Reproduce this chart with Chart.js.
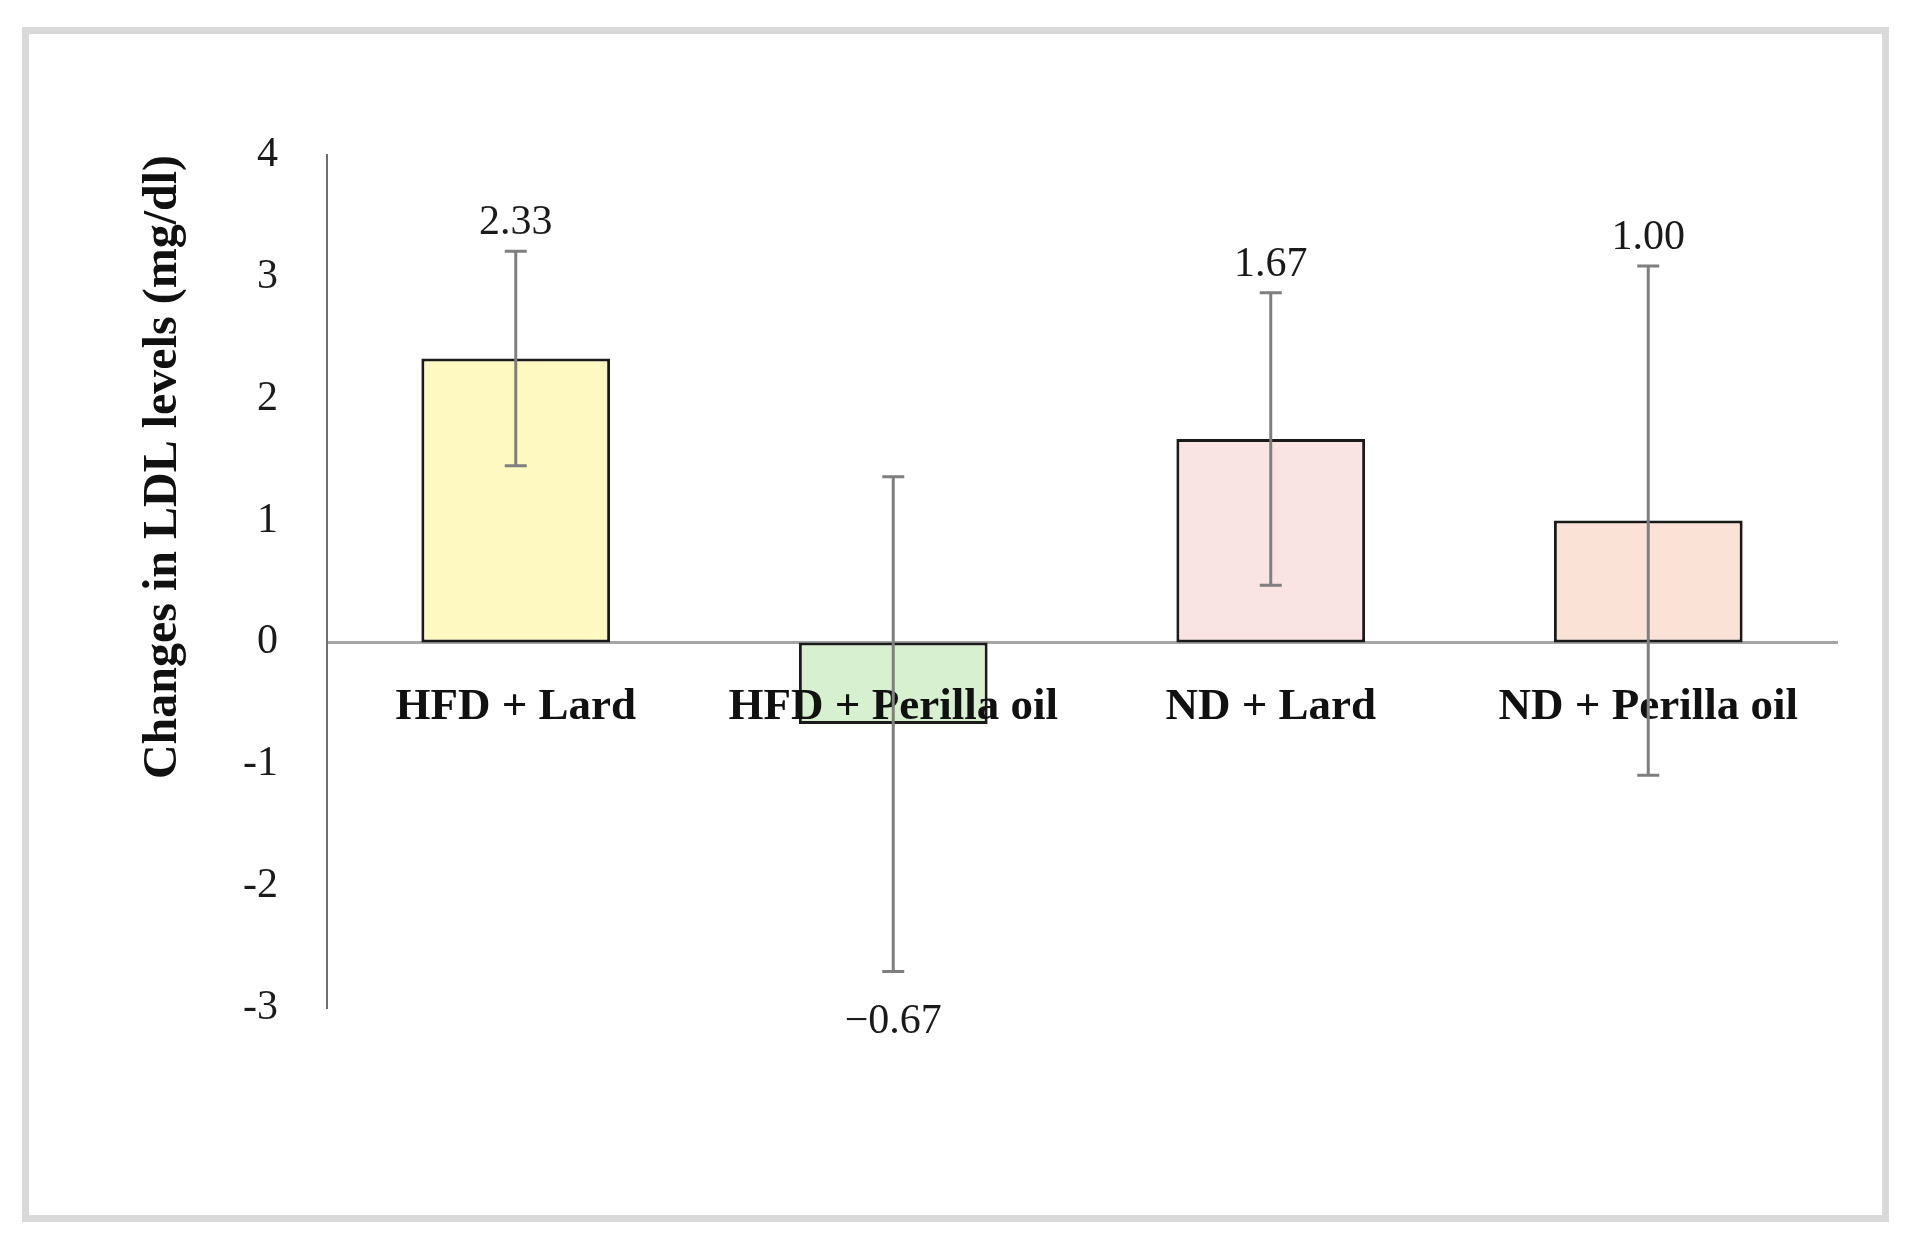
<!DOCTYPE html>
<html>
<head>
<meta charset="utf-8">
<title>Changes in LDL levels</title>
<script src="https://cdn.jsdelivr.net/npm/chart.js@4/dist/chart.umd.min.js"></script>
<style>
  html, body { margin: 0; padding: 0; background: #fff; }
  #wrap { position: relative; width: 1906px; height: 1244px; }
  #frame {
    position: absolute; left: 22px; top: 27px;
    width: 1853px; height: 1181px;
    border: 7px solid #d9d9d9;
    pointer-events: none;
  }
  canvas { position: absolute; left: 0; top: 0; }
</style>
</head>
<body>
<div id="wrap">
  <canvas id="ldlChart" width="1906" height="1244"></canvas>
  <div id="frame"></div>
</div>
<script>
// Изменение ЛПНП по группам, среднее ± ошибка
const groups = ['HFD + Lard', 'HFD + Perilla oil', 'ND + Lard', 'ND + Perilla oil'];
const ldlChange = [2.33, -0.67, 1.67, 1.00];
const ldlError = [0.88, 2.03, 1.20, 2.09];
const barColors = ['#fef9c1', '#d7f0cf', '#f9e4e3', '#fbe2d6'];
const yTicks = [4, 3, 2, 1, 0, -1, -2, -3];

const serif = '"Liberation Serif", "DejaVu Serif", serif';

function formatValue(v) {
  const text = Math.abs(v).toFixed(2);
  return v < 0 ? '\u2212' + text : text;
}

// усы ошибок и подписи значений поверх столбцов
const errorBars = {
  id: 'errorBars',
  afterDraw(chart) {
    const ctx = chart.ctx;
    const yScale = chart.scales.y;
    const meta = chart.getDatasetMeta(0);
    ctx.save();
    meta.data.forEach((bar, i) => {
      const value = ldlChange[i];
      const err = ldlError[i];
      const x = bar.x;
      const top = yScale.getPixelForValue(value + err);
      const bottom = yScale.getPixelForValue(value - err);
      const cap = 11;

      ctx.strokeStyle = '#7f7f7f';
      ctx.lineWidth = 3;
      ctx.beginPath();
      ctx.moveTo(x, top);
      ctx.lineTo(x, bottom);
      ctx.moveTo(x - cap, top);
      ctx.lineTo(x + cap, top);
      ctx.moveTo(x - cap, bottom);
      ctx.lineTo(x + cap, bottom);
      ctx.stroke();

      ctx.fillStyle = '#1a1a1a';
      ctx.font = '42px ' + serif;
      ctx.textAlign = 'center';
      ctx.textBaseline = 'middle';
      if (value >= 0) {
        ctx.fillText(formatValue(value), x, top - 28);
      } else {
        ctx.fillText(formatValue(value), x, bottom + 51);
      }
    });
    ctx.restore();
  },
};

new Chart(document.getElementById('ldlChart'), {
  type: 'bar',
  data: {
    labels: groups,
    datasets: [
      {
        data: ldlChange,
        backgroundColor: barColors,
        borderColor: '#1a1a1a',
        borderWidth: 3,
        borderSkipped: false,
        barPercentage: 0.5,
        categoryPercentage: 1,
      },
    ],
  },
  options: {
    responsive: false,
    animation: false,
    events: [],
    layout: {
      padding: { left: 135, right: 69, top: 155, bottom: 236 },
    },
    plugins: {
      legend: { display: false },
      tooltip: { enabled: false },
    },
    scales: {
      x: {
        position: { y: 0 },
        grid: { display: false, drawTicks: false },
        border: { display: true, color: '#a6a6a6', width: 3 },
        ticks: {
          z: 1,
          color: '#111111',
          padding: 38,
          maxRotation: 0,
          autoSkip: false,
          font: { family: serif, size: 45, weight: 'bold' },
        },
      },
      y: {
        min: -3,
        max: 4,
        afterBuildTicks(scale) {
          scale.ticks = yTicks.map((v) => ({ value: v }));
        },
        afterFit(scale) {
          scale.width = 327 - 135;
        },
        grid: { display: false, drawTicks: false },
        border: { display: true, color: '#6e6e6e', width: 2 },
        ticks: {
          color: '#1a1a1a',
          padding: 49,
          font: { family: serif, size: 42 },
        },
        title: {
          display: true,
          text: 'Changes in LDL levels (mg/dl)',
          align: 'end',
          color: '#111111',
          padding: { top: 0, bottom: 0 },
          font: { family: serif, size: 48, weight: 'bold' },
        },
      },
    },
  },
  plugins: [errorBars],
});
</script>
</body>
</html>
